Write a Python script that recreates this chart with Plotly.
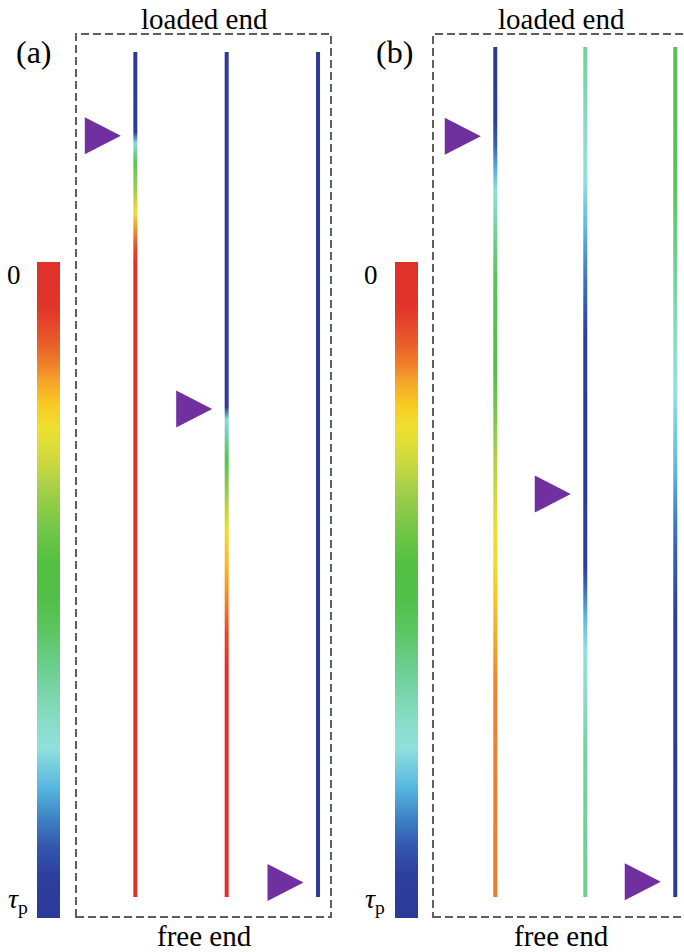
import plotly.graph_objects as go
from plotly.colors import sample_colorscale

FIG_W, FIG_H = 684, 952

# ---- colour scale: level 0 = tau_p (bottom of bar, blue), level 1 = 0 (top, red)
SCALE_LEVELS = [0.0, 0.065, 0.11, 0.15, 0.20, 0.26, 0.30, 0.37, 0.44, 0.49, 0.54,
                0.60, 0.658, 0.69, 0.746, 0.78, 0.815, 0.84, 0.88, 0.93, 1.0]
SCALE_COLORS = ["rgb(44,58,152)", "rgb(45,63,158)", "rgb(52,88,176)", "rgb(60,128,196)",
                "rgb(88,184,224)", "rgb(144,224,220)", "rgb(136,220,200)", "rgb(112,208,152)",
                "rgb(90,198,96)", "rgb(80,192,72)", "rgb(82,192,64)", "rgb(120,200,72)",
                "rgb(168,208,72)", "rgb(200,216,64)", "rgb(238,224,48)", "rgb(248,204,34)",
                "rgb(246,168,40)", "rgb(240,132,42)", "rgb(232,90,42)", "rgb(224,53,42)",
                "rgb(224,48,42)"]
COLORSCALE = [[l, c] for l, c in zip(SCALE_LEVELS, SCALE_COLORS)]

CBAR_TICK_LEVELS = [1.0, 0.0]
CBAR_TICK_TEXT = ["0", "<i>τ</i><sub>p</sub>"]

FIBRE_INDEX = [1, 2, 3]

# ---- panel (a): stress level along each fibre (position 0 = loaded end, 1 = free end)
A1_POS = [0.0, 0.095, 0.108, 0.131, 0.167, 0.19, 0.214, 0.231, 0.249, 1.0]
A1_LVL = [0.0, 0.02, 0.25, 0.45, 0.66, 0.75, 0.84, 0.90, 1.0, 1.0]
A2_POS = [0.0, 0.42, 0.435, 0.483, 0.53, 0.566, 0.609, 0.649, 0.688, 0.728, 1.0]
A2_LVL = [0.0, 0.0, 0.25, 0.47, 0.66, 0.75, 0.80, 0.84, 0.90, 1.0, 1.0]
A3_POS = [0.0, 1.0]
A3_LVL = [0.0, 0.0]
A_FRONT = [0.099, 0.4225, 0.983]

# ---- panel (b)
B1_POS = [0.0, 0.084, 0.115, 0.142, 0.169, 0.227, 0.273, 0.385, 0.43, 0.475, 0.565,
          0.61, 0.655, 0.69, 0.748, 1.0]
B1_LVL = [0.0, 0.02, 0.12, 0.19, 0.26, 0.38, 0.46, 0.52, 0.60, 0.66, 0.74,
          0.76, 0.79, 0.81, 0.84, 0.85]
B2_POS = [0.0, 0.098, 0.156, 0.215, 0.274, 0.34, 0.41, 0.526, 0.61, 0.633, 0.67,
          0.71, 0.768, 0.827, 1.0]
B2_LVL = [0.37, 0.30, 0.26, 0.20, 0.14, 0.05, 0.01, 0.0, 0.04, 0.12, 0.20,
          0.26, 0.30, 0.36, 0.38]
B3_POS = [0.0, 0.16, 0.25, 0.34, 0.407, 0.453, 0.498, 0.565, 0.592, 0.67, 0.768, 1.0]
B3_LVL = [0.48, 0.46, 0.38, 0.30, 0.26, 0.23, 0.20, 0.14, 0.12, 0.05, 0.02, 0.0]
B_FRONT = [0.105, 0.526, 0.982]

# ---- layout / style constants
Y_DOM = [1 - 917 / FIG_H, 1 - 34 / FIG_H]
PANELS = [
    dict(xa="x", ya="y", xdom=[76 / FIG_W, 331 / FIG_W], xrng=[0.3505, 3.142],
         yrng=[1.0237, -0.0213], fibres=[(A1_POS, A1_LVL), (A2_POS, A2_LVL), (A3_POS, A3_LVL)],
         fronts=A_FRONT, cbx=37 / FIG_W, label="(a)", lab_x=34, zero_x=14, tau_x=18,
         text_x=204, box=[76 / FIG_W, 331 / FIG_W]),
    dict(xa="x2", ya="y2", xdom=[433 / FIG_W, 1.0], xrng=[0.308, 3.097],
         yrng=[1.0235, -0.0153], fibres=[(B1_POS, B1_LVL), (B2_POS, B2_LVL), (B3_POS, B3_LVL)],
         fronts=B_FRONT, cbx=395 / FIG_W, label="(b)", lab_x=394, zero_x=371, tau_x=375,
         text_x=561, box=[433 / FIG_W, 1.03]),
]
LINE_W_PX = 4.0
TRI_W_PX, TRI_H_PX, TRI_GAP_PX = 36.0, 37.0, 14.5
TRI_COLOR = "rgb(112,48,160)"
SERIF = "Liberation Serif, Times New Roman, serif"

fig = go.Figure()

for pi, P in enumerate(PANELS):
    ppx = (P["xdom"][1] - P["xdom"][0]) * FIG_W / abs(P["xrng"][1] - P["xrng"][0])
    ppy = (Y_DOM[1] - Y_DOM[0]) * FIG_H / abs(P["yrng"][1] - P["yrng"][0])
    hw = LINE_W_PX / 2 / ppx
    for idx, (pos, lvl) in zip(FIBRE_INDEX, P["fibres"]):
        cols = sample_colorscale(COLORSCALE, lvl)
        fig.add_trace(go.Scatter(
            x=[idx - hw, idx + hw, idx + hw, idx - hw, idx - hw],
            y=[pos[0], pos[0], pos[-1], pos[-1], pos[0]],
            xaxis=P["xa"], yaxis=P["ya"], mode="lines", line=dict(width=0),
            fill="toself",
            fillgradient=dict(type="vertical", start=pos[0], stop=pos[-1],
                              colorscale=[[p, c] for p, c in zip(pos, cols)]),
            hoverinfo="skip", showlegend=False))
    for idx, f in zip(FIBRE_INDEX, P["fronts"]):
        tip = idx - TRI_GAP_PX / ppx
        back = idx - (TRI_GAP_PX + TRI_W_PX) / ppx
        hh = TRI_H_PX / 2 / ppy
        fig.add_trace(go.Scatter(
            x=[tip, back, back, tip], y=[f, f - hh, f + hh, f],
            xaxis=P["xa"], yaxis=P["ya"], mode="lines", line=dict(width=0, color=TRI_COLOR),
            fill="toself", fillcolor=TRI_COLOR, hoverinfo="skip", showlegend=False))
    # colour bar
    fig.add_trace(go.Scatter(
        x=[None], y=[None], xaxis=P["xa"], yaxis=P["ya"], mode="markers",
        marker=dict(color=[0, 1], colorscale=COLORSCALE, cmin=0, cmax=1, showscale=True,
                    colorbar=dict(x=P["cbx"], xanchor="left", xpad=0, ypad=0,
                                  y=1 - 262 / FIG_H, yanchor="top", len=656, lenmode="pixels",
                                  thickness=23, outlinewidth=0, showticklabels=False,
                                  ticks="")),
        showlegend=False, hoverinfo="skip"))
    # dashed frame
    fig.add_shape(type="rect", xref="paper", yref="paper", x0=P["box"][0], x1=P["box"][1],
                  y0=Y_DOM[0], y1=Y_DOM[1],
                  line=dict(color="rgb(95,95,95)", width=2, dash="8px,4px"))
    ann = dict(xref="paper", yref="paper", showarrow=False, xanchor="center", yanchor="middle")
    fig.add_annotation(text="loaded end", x=P["text_x"] / FIG_W, y=1 - 19 / FIG_H,
                       font=dict(family=SERIF, size=29, color="black"), **ann)
    fig.add_annotation(text="free end", x=P["text_x"] / FIG_W, y=1 - 936 / FIG_H,
                       font=dict(family=SERIF, size=29, color="black"), **ann)
    fig.add_annotation(text=P["label"], x=P["lab_x"] / FIG_W, y=1 - 52 / FIG_H,
                       font=dict(family=SERIF, size=32, color="black"), **ann)
    fig.add_annotation(text=CBAR_TICK_TEXT[0], x=P["zero_x"] / FIG_W, y=1 - 275 / FIG_H,
                       font=dict(family=SERIF, size=27, color="black"), **ann)
    fig.add_annotation(text=CBAR_TICK_TEXT[1], x=P["tau_x"] / FIG_W, y=1 - 900 / FIG_H,
                       font=dict(family=SERIF, size=28, color="black"), **ann)

    sfx = "" if pi == 0 else "2"
    fig.layout["xaxis" + sfx] = dict(domain=P["xdom"], range=P["xrng"], visible=False,
                                     fixedrange=True, anchor="y" + sfx)
    fig.layout["yaxis" + sfx] = dict(domain=Y_DOM, range=P["yrng"], visible=False,
                                     fixedrange=True, anchor="x" + sfx)

fig.update_layout(width=FIG_W, height=FIG_H, margin=dict(l=0, r=0, t=0, b=0),
                  paper_bgcolor="white", plot_bgcolor="rgba(0,0,0,0)", showlegend=False)
fig.write_html("out.html")
